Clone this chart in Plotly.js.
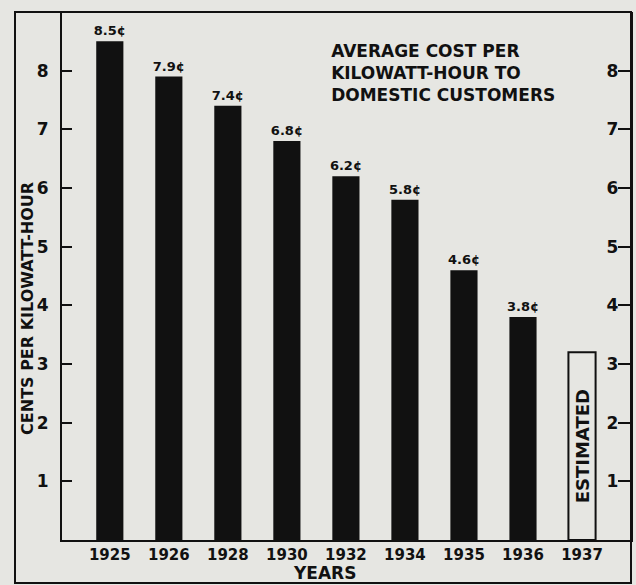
<!DOCTYPE html>
<html>
<head>
<meta charset="utf-8">
<script src="https://cdn.plot.ly/plotly-3.0.1.min.js"></script>
<style>html,body{margin:0;padding:0;background:#e6e6e2;}#chart{width:636px;height:585px;}</style>
</head>
<body>
<div id="chart"></div>
<script>
var years = ['1925','1926','1928','1930','1932','1934','1935','1936'];
var cents = [8.5, 7.9, 7.4, 6.8, 6.2, 5.8, 4.6, 3.8];
var estYear = ['1937'];
var estCents = [3.2];
var estLabel = ['ESTIMATED'];
var allYears = years.concat(estYear);
var yTicks = [1, 2, 3, 4, 5, 6, 7, 8];
var titleLines = ['AVERAGE COST PER', 'KILOWATT-HOUR TO', 'DOMESTIC CUSTOMERS'];

var BG = '#e6e6e2';
var INK = '#111111';
var FAM = 'DejaVu Sans, Arial, sans-serif';

var traces = [
  {
    type: 'bar',
    x: years,
    y: cents,
    width: 0.46,
    marker: {color: INK, line: {width: 0}},
    text: cents.map(function (v) { return v.toFixed(1) + '¢'; }),
    textposition: 'outside',
    cliponaxis: false,
    constraintext: 'none',
    textfont: {family: FAM, size: 13, color: INK, weight: 'bold'},
    hoverinfo: 'x+y',
    showlegend: false
  },
  {
    type: 'bar',
    x: estYear,
    y: estCents,
    yaxis: 'y2',
    width: 0.46,
    marker: {color: BG, line: {width: 2, color: INK}},
    text: estLabel,
    textposition: 'inside',
    insidetextanchor: 'middle',
    textangle: -90,
    constraintext: 'none',
    textfont: {family: FAM, size: 18, color: INK, weight: 'bold'},
    hoverinfo: 'x+y',
    showlegend: false
  }
];

var layout = {
  width: 636,
  height: 585,
  margin: {l: 62, r: 5, t: 12, b: 45},
  paper_bgcolor: BG,
  plot_bgcolor: BG,
  barmode: 'overlay',
  font: {family: FAM, color: INK},
  title: {
    text: titleLines.join('<br>'),
    xref: 'paper', yref: 'paper',
    x: 0.473, y: 0.915,
    xanchor: 'left', yanchor: 'top',
    font: {family: FAM, size: 17, color: INK, weight: 'bold'}
  },
  xaxis: {
    type: 'category',
    categoryorder: 'array',
    categoryarray: allYears,
    range: [-0.81, 8.83],
    showline: true, linecolor: INK, linewidth: 2,
    ticks: '', showgrid: false, zeroline: false,
    tickfont: {family: FAM, size: 15, color: INK, weight: 'bold'},
    ticklabelstandoff: 0,
    fixedrange: true
  },
  yaxis: {
    range: [0, 9],
    tickvals: yTicks,
    ticktext: yTicks.map(String),
    showline: true, linecolor: INK, linewidth: 2,
    ticks: 'inside', ticklen: 10, tickwidth: 2, tickcolor: INK,
    showgrid: false, zeroline: false,
    tickfont: {family: FAM, size: 17, color: INK, weight: 'bold'},
    ticklabelstandoff: 8,
    fixedrange: true
  },
  yaxis2: {
    overlaying: 'y',
    side: 'right',
    range: [0, 9],
    tickvals: yTicks,
    ticktext: yTicks.map(String),
    showline: true, linecolor: INK, linewidth: 2,
    ticks: 'inside', ticklen: 13, tickwidth: 2, tickcolor: INK,
    ticklabelposition: 'inside',
    showgrid: false, zeroline: false,
    tickfont: {family: FAM, size: 17, color: INK, weight: 'bold'},
    fixedrange: true
  },
  shapes: [
    {type: 'rect', xref: 'paper', yref: 'paper',
     x0: -0.0826, x1: 1, y0: -0.0814, y1: 1,
     line: {color: INK, width: 2}, fillcolor: 'rgba(0,0,0,0)', layer: 'above'}
  ],
  annotations: [
    {text: 'YEARS', xref: 'paper', yref: 'paper', x: 0.462, y: -0.0625,
     xanchor: 'center', yanchor: 'middle', showarrow: false,
     font: {family: FAM, size: 17, color: INK, weight: 'bold'}},
    {text: 'CENTS PER KILOWATT-HOUR', xref: 'paper', yref: 'paper', x: -0.062, y: 0.439,
     xanchor: 'center', yanchor: 'middle', textangle: -90, showarrow: false,
     font: {family: FAM, size: 16, color: INK, weight: 'bold'}}
  ]
};

Plotly.newPlot('chart', traces, layout, {displayModeBar: false, staticPlot: true});
</script>
</body>
</html>
